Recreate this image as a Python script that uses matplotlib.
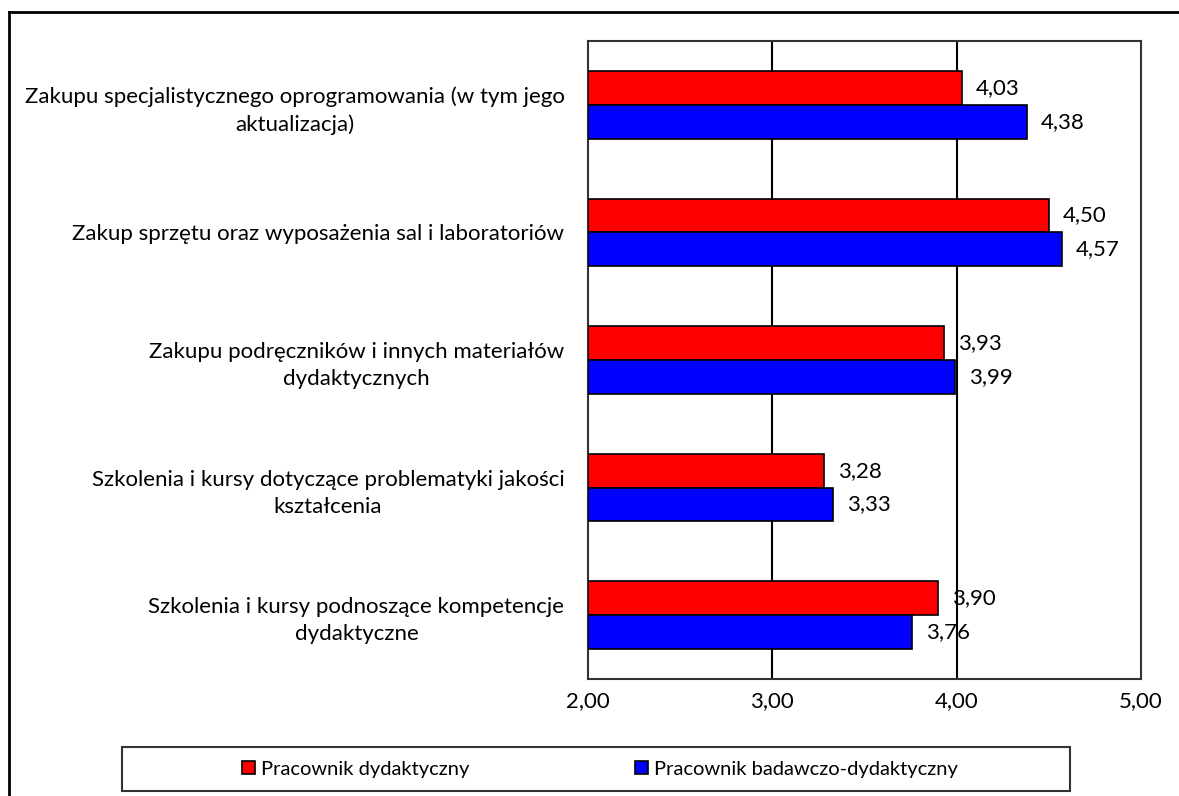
import matplotlib
matplotlib.use("Agg")
import matplotlib.pyplot as plt
from matplotlib.patches import Rectangle, Patch
from matplotlib.lines import Line2D
import numpy as np

categories = [
    "Zakupu specjalistycznego oprogramowania (w tym jego\naktualizacja)",
    "Zakup sprzętu oraz wyposażenia sal i laboratoriów",
    "Zakupu podręczników i innych materiałów\ndydaktycznych",
    "Szkolenia i kursy dotyczące problematyki jakości\nkształcenia",
    "Szkolenia i kursy podnoszące kompetencje\ndydaktyczne",
]
series_names = ["Pracownik dydaktyczny", "Pracownik badawczo-dydaktyczny"]
dydaktyczny = [4.03, 4.50, 3.93, 3.28, 3.90]
badawczo = [4.38, 4.57, 3.99, 3.33, 3.76]
xticks = [2.0, 3.0, 4.0, 5.0]

plt.rcParams['font.family'] = ['Lato', 'DejaVu Sans']
FS = 16
LFS = 14.5

W, H = 1179, 796
fig = plt.figure(figsize=(W / 100, H / 100), dpi=100)
ax = fig.add_axes([588 / W, 1 - 679 / H, (1141 - 588) / W, (679 - 41) / H])

n = len(categories)
y = np.arange(n)
h = 0.265
ax.barh(y - h / 2, np.array(dydaktyczny) - 2, left=2, height=h, color='#FF0000',
        edgecolor='black', linewidth=1.2, zorder=3, label=series_names[0])
ax.barh(y + h / 2, np.array(badawczo) - 2, left=2, height=h, color='#0000FF',
        edgecolor='black', linewidth=1.2, zorder=3, label=series_names[1])

for yy, v in zip(y - h / 2, dydaktyczny):
    ax.annotate(f"{v:.2f}".replace('.', ','), (v, yy), xytext=(10, 0), textcoords='offset points',
                va='center', ha='left', fontsize=FS, zorder=4)
for yy, v in zip(y + h / 2, badawczo):
    ax.annotate(f"{v:.2f}".replace('.', ','), (v, yy), xytext=(10, 0), textcoords='offset points',
                va='center', ha='left', fontsize=FS, zorder=4)

ax.set_xlim(2, 5)
ax.set_ylim(n - 0.5, -0.5)
ax.set_xticks(xticks)
ax.set_xticklabels([f"{t:.2f}".replace('.', ',') for t in xticks], fontsize=FS)
ax.set_yticks(y)
ax.set_yticklabels(categories, fontsize=FS, ha='right', multialignment='center', linespacing=1.45)
ax.tick_params(axis='both', length=0)
ax.tick_params(axis='x', pad=9)
ax.tick_params(axis='y', pad=17)
for s in ax.spines.values():
    s.set_color('#333333')
    s.set_linewidth(1.5)
for t in xticks[1:-1]:
    ax.axvline(t, color='black', linewidth=1.5, zorder=1)

# outer border (left and top)
fig.add_artist(Line2D([9 / W, 9 / W], [0, 1 - 12 / H], color='black', linewidth=2))
fig.add_artist(Line2D([9 / W, 1], [1 - 12 / H, 1 - 12 / H], color='black', linewidth=2))

# legend box
fig.add_artist(Rectangle((122 / W, 1 - 791 / H), (1070 - 122) / W, (791 - 747) / H,
                         transform=fig.transFigure, fill=False, edgecolor='#333333', linewidth=1.5))
handles = [Patch(facecolor='#FF0000', edgecolor='black', linewidth=1.2),
           Patch(facecolor='#0000FF', edgecolor='black', linewidth=1.2)]
fig.legend(handles, series_names, loc='center', bbox_to_anchor=(600 / W, 1 - 769 / H),
           ncol=2, frameon=False, fontsize=LFS, handlelength=0.65, handleheight=0.65,
           handletextpad=0.3, columnspacing=8.2)

fig.savefig('out.png', dpi=100, facecolor='white')
